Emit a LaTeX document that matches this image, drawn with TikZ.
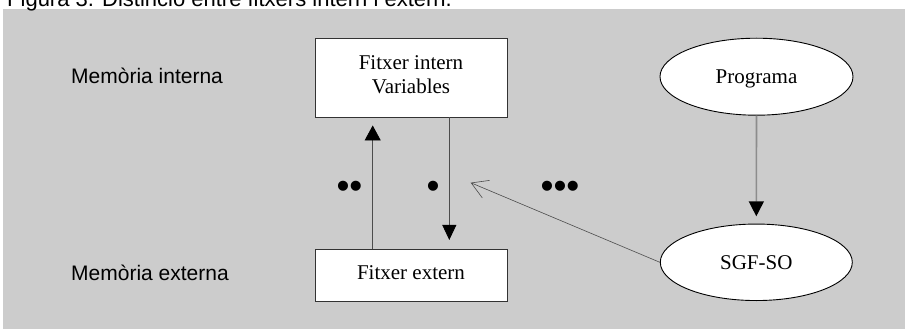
\documentclass[tikz,border=0pt]{standalone}
\usepackage{fontspec}
\setmainfont{Liberation Serif}
\newfontfamily\arialfont{Liberation Sans}
\usetikzlibrary{shapes.geometric,arrows.meta}
\definecolor{panel}{gray}{0.8}
\definecolor{edge}{gray}{0.3}
\definecolor{softline}{gray}{0.55}
\begin{document}
\begin{tikzpicture}[x=1pt,y=-1pt,
  box/.style={draw=black!80, line width=0.9pt, fill=white, minimum width=192pt,
    inner sep=0pt, font=\fontsize{21}{24.7}\selectfont, align=center},
  oval/.style={ellipse, draw=black, line width=0.9pt, fill=white,
    minimum width=193pt, minimum height=77pt, inner sep=0pt,
    font=\fontsize{21}{24.7}\selectfont},
  sidelabel/.style={anchor=base west, inner sep=0pt,
    font=\arialfont\fontsize{21}{24}\selectfont},
  dotmark/.style={inner sep=0pt, font=\arialfont\fontsize{37}{37}\selectfont},
  link/.style={draw=edge, line width=0.8pt},
  solidhead/.style={-{Triangle[length=15pt,width=#1,color=black]}},
]
\useasboundingbox (0,0) rectangle (905,329);
\fill[panel] (3,9) rectangle (905,329);

% caption above the panel
\node[anchor=base west, inner sep=0pt, font=\arialfont\fontsize{22}{24}\selectfont]
  (title) at (7,6.5) {Figura 3. Distinció entre fitxers intern i extern.};

% memory levels
\node[sidelabel] (mi) at (71,84) {Memòria interna};
\node[sidelabel] (me) at (71,280.7) {Memòria externa};

% files
\node[box, minimum height=79pt, text depth=6pt] (fi) at (411,77.5) {Fitxer intern\\Variables};
\node[box, minimum height=52pt, text depth=4pt] (fe) at (411,275) {Fitxer extern};

% program and file system
\node[oval, text depth=0pt] (pr) at (756.5,76.7) {Programa};
\node[oval, minimum width=192pt, minimum height=76.5pt] (sg) at (756.3,262.3) {SGF-SO};

% step markers
\node[dotmark] (d2) at (349.5,189.5) {••};
\node[dotmark] (d1) at (433,189.5) {•};
\node[dotmark] (d3) at (560,189.5) {•••};

% connectors
\coordinate (upx) at (372.7,0);
\coordinate (dnx) at (449.3,0);
\coordinate (tip) at (470.7,182.7);
\draw[link, solidhead=16pt, shorten >=8pt] (fe.north -| upx) -- (fi.south -| upx);
\draw[link, solidhead=14pt, shorten >=8.6pt] (fi.south -| dnx) -- (fe.north -| dnx);
\draw[draw=softline, line width=1.6pt, solidhead=15pt, shorten >=7.3pt] (pr.south) -- (sg.north);
\draw[link, line width=0.6pt, -{Straight Barb[length=16pt,width=19pt]}] (sg.west) -- (tip);
\end{tikzpicture}
\end{document}
